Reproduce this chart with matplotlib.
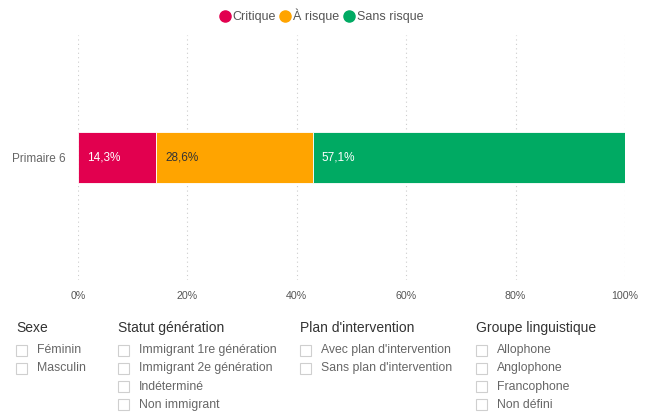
import numpy as np
import matplotlib.pyplot as plt
from matplotlib.patches import Rectangle
from matplotlib.lines import Line2D

plt.rcParams['font.family'] = ['Liberation Sans', 'DejaVu Sans']

categories = ["Primaire 6"]
series = ["Critique", "À risque", "Sans risque"]
values = [14.3, 28.6, 57.1]
colors = ["#e2004f", "#ffa400", "#00aa63"]
label_colors = ["white", "#333333", "white"]
xticks = [0, 20, 40, 60, 80, 100]

filters = {
    "Sexe": ["Féminin", "Masculin"],
    "Statut génération": ["Immigrant 1re génération", "Immigrant 2e génération",
                          "Indéterminé", "Non immigrant"],
    "Plan d'intervention": ["Avec plan d'intervention", "Sans plan d'intervention"],
    "Groupe linguistique": ["Allophone", "Anglophone", "Francophone", "Non défini"],
}
filter_x = [16, 118, 300, 476]

W, H = 646, 415
fig = plt.figure(figsize=(W / 100, H / 100), dpi=100)
ax = fig.add_axes([78 / W, 1 - 280 / H, 547 / W, 245 / H])

left = 0
for v, c, lc in zip(values, colors, label_colors):
    ax.barh(0, v, left=left, height=0.208, color=c, edgecolor="white", linewidth=0.6)
    ax.text(left + 1.6, 0, f"{v:.1f}%".replace(".", ","), color=lc,
            va="center", ha="left", fontsize=8.5)
    left += v

ax.set_xlim(0, 100)
ax.set_ylim(-0.5, 0.5)
ax.set_xticks(xticks)
ax.set_xticklabels([f"{t}%" for t in xticks], color="#555555", fontsize=7.7)
ax.set_yticks([0])
ax.set_yticklabels(categories, color="#666666", fontsize=8.5)
ax.tick_params(length=0, pad=8)
ax.tick_params(axis="y", pad=9)
ax.grid(axis="x", color="#cccccc", linestyle=(0, (1, 3)), linewidth=0.8)
ax.set_axisbelow(True)
for s in ax.spines.values():
    s.set_visible(False)

handles = [Line2D([], [], marker="o", linestyle="", markersize=8,
                  markerfacecolor=c, markeredgecolor=c) for c in colors]
fig.legend(handles, series, loc="center", bbox_to_anchor=(321 / W, 1 - 16 / H),
           ncol=3, frameon=False, fontsize=9, handlelength=0.9,
           handletextpad=0.15, columnspacing=0.35, labelcolor="#555555")

for (title, items), x in zip(filters.items(), filter_x):
    fig.text(x / W, 1 - 328 / H, title, fontsize=10, color="#333333",
             va="center", ha="left")
    for i, item in enumerate(items):
        y = 350 + i * 18.3
        fig.patches.append(Rectangle((x / W, 1 - (y + 5.5) / H), 11 / W, 11 / H,
                                     transform=fig.transFigure, facecolor="white",
                                     edgecolor="#cfcfcf", linewidth=0.8))
        fig.text((x + 21) / W, 1 - y / H, item, fontsize=8.8, color="#666666",
                 va="center", ha="left")

fig.savefig("out.png", dpi=100)
